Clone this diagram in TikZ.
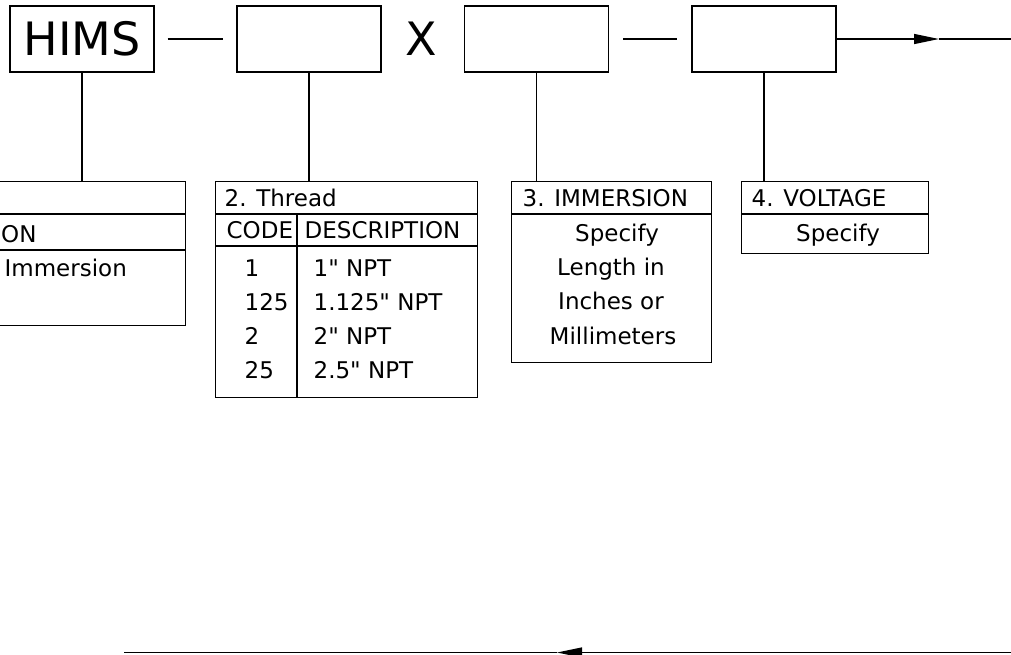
\documentclass[tikz,border=0pt]{standalone}
\usepackage{fontspec}
\setmainfont{DejaVu Sans}
\newfontfamily\dv{DejaVu Sans}
\usetikzlibrary{arrows.meta}

\begin{document}
\begin{tikzpicture}[x=1pt, y=-1pt, line width=1.3pt,
    box/.style={draw, rectangle, inner sep=0pt, minimum width=144pt, minimum height=66pt, font=\dv\fontsize{46}{50}\selectfont},
    tbl/.style={draw, rectangle, inner sep=0pt, anchor=north west},
    txt/.style={inner sep=0pt, font=\dv\fontsize{23}{27}\selectfont},
    arrowmid/.style={-{Triangle[length=25pt,width=10pt]}}]
  \useasboundingbox (0,0) rectangle (1011,654);
  \node[box] (H) at (82,39) {HIMS};
  \node[box] (T) at (309,39) {};
  \node[inner sep=0pt, font=\dv\fontsize{46}{50}\selectfont] (X) at (421.5,39) {X};
  \node[box] (I) at (536.5,39) {};
  \node[box] (V) at (764,39) {};
  \coordinate (outtip) at (939,39);
  \coordinate (out) at (1011,39);
  \draw ([xshift=13pt]H.east) -- ([xshift=-13pt]T.west);
  \draw ([xshift=14pt]I.east) -- ([xshift=-14pt]V.west);
  \draw[arrowmid] (V.east) -- (outtip);
  \draw (outtip) -- (out);

  \node[tbl, minimum width=205pt, minimum height=144pt] (T1) at (-20,181) {};
  \node[tbl, minimum width=262pt, minimum height=216pt] (T2) at (215,181) {};
  \node[tbl, minimum width=200pt, minimum height=181pt] (T3) at (511,181) {};
  \node[tbl, minimum width=187pt, minimum height=72pt] (T4) at (741,181) {};
  \draw (H.south) -- (H.south |- T1.north);
  \draw (T.south) -- (T.south |- T2.north);
  \draw (I.south) -- (I.south |- T3.north);
  \draw (V.south) -- (V.south |- T4.north);

  \draw (T1.west |- 0,214) -- (T1.east |- 0,214);
  \draw (T1.west |- 0,250) -- (T1.east |- 0,250);
  \draw (T2.west |- 0,214) -- (T2.east |- 0,214);
  \draw (T2.west |- 0,246) -- (T2.east |- 0,246);
  \draw (297,214) -- (297,0 |- T2.south);
  \draw (T3.west |- 0,214) -- (T3.east |- 0,214);
  \draw (T4.west |- 0,214) -- (T4.east |- 0,214);

  \node[txt, anchor=base west] (on) at (0.5,242) {ON};
  \node[txt, anchor=base west] (imm) at (4,276) {Immersion};

  \node[txt, anchor=base west] (n2) at (224,206) {2. Thread};
  \node[txt, anchor=base west] (code) at (226,238) {CODE};
  \node[txt, anchor=base west] (desc) at (304,238) {DESCRIPTION};
  \foreach \c/\d/\y in {1/1" NPT/276, 125/1.125" NPT/310, 2/2" NPT/344, 25/2.5" NPT/378}{
    \node[txt, anchor=base west] (c\c) at (244,\y) {\c};
    \node[txt, anchor=base west] (d\c) at (313,\y) {\d};
  }

  \node[txt, anchor=base west] (n3) at (522,206) {3. IMMERSION};
  \node[txt, anchor=base] (s3) at (617,241) {Specify};
  \node[txt, anchor=base] (l3) at (611,275) {Length in};
  \node[txt, anchor=base] (i3) at (611,309) {Inches or};
  \node[txt, anchor=base] (m3) at (613,344) {Millimeters};

  \node[txt, anchor=base west] (n4) at (751,206) {4. VOLTAGE};
  \node[txt, anchor=base] (s4) at (838,241) {Specify};

  \coordinate (retin) at (1011,652.5);
  \coordinate (rettip) at (557,652.5);
  \coordinate (retout) at (124,652.5);
  \draw[arrowmid] (retin) -- (rettip);
  \draw (rettip) -- (retout);
\end{tikzpicture}
\end{document}
